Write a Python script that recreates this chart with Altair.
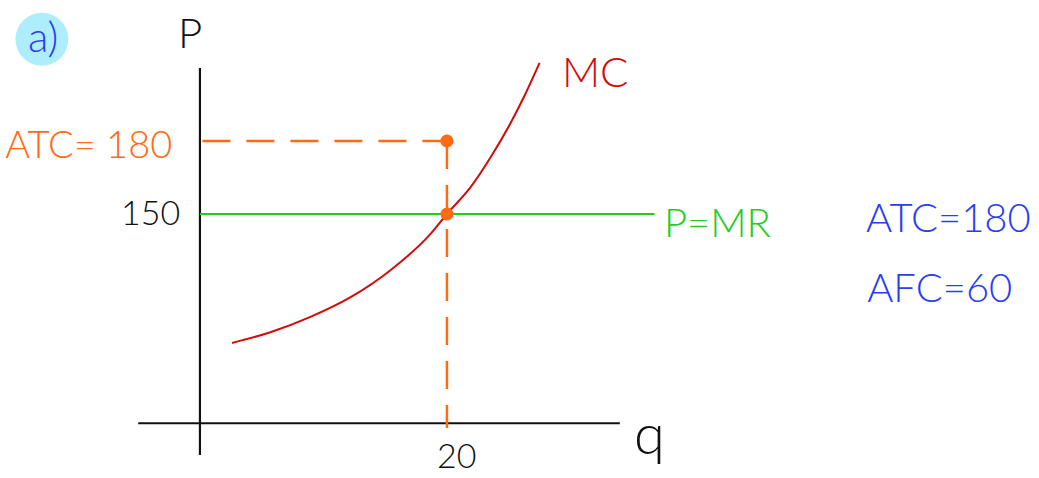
import altair as alt
import pandas as pd

# Marginal cost curve, quantity vs price
mc_q = [2.6, 5.7, 8.9, 12.2, 15.4, 18.6, 20.0, 21.9, 23.5, 25.1, 26.3, 27.5]
mc_p = [97.0, 101.4, 107.6, 115.8, 126.8, 141.4, 150.0, 160.9, 173.0, 186.9, 198.8, 212.1]

# Market price (P = MR), average total cost and profit-maximising output
price = 150
atc = 180
q_star = 20
price_line_q = [0, 36.8]

# Sketch axes (origin drawn schematically, not at zero)
x_axis_q = [-5, 34]
x_axis_p = 64
y_axis_p = [51, 210]

# Guide lines down to the axes
atc_guide_q = [0.2, 19.8]
q_guide_p = [atc, 62]

# Text annotations
label_text = ["a)", "P", "ATC= 180", "150", "MC", "P=MR", "ATC=180", "AFC=60", "20", "q"]
label_q = [-12.7, -0.8, -9.0, -4.0, 32.0, 41.9, 60.6, 59.9, 20.8, 36.4]
label_p = [222.0, 223.6, 177.5, 149.6, 207.5, 145.5, 147.5, 118.8, 49.7, 58.5]
label_color = ["#2a3df0", "#111111", "#ff6a13", "#111111", "#d40a0a",
               "#22cc22", "#2a3df0", "#2a3df0", "#111111", "#111111"]
label_size = [42, 42, 38, 34, 42, 40, 40, 40, 34, 56]

ORANGE = "#ff6a13"
q_dom = [-16.19, 67.94]
p_dom = [41.5, 237.95]

xs = alt.Scale(domain=q_dom, nice=False, zero=False)
ys = alt.Scale(domain=p_dom, nice=False, zero=False)

def X(f):
    return alt.X(f, type="quantitative", scale=xs, axis=None)

def Y(f):
    return alt.Y(f, type="quantitative", scale=ys, axis=None)

# Highlight blob behind the part label
badge = alt.Chart(pd.DataFrame({"q": [label_q[0] - 0.1], "p": [label_p[0] - 0.2]})).mark_circle(
    size=2800, color="#aeeefc", opacity=1
).encode(x=X("q"), y=Y("p"))

axes_df = pd.DataFrame({
    "q": [x_axis_q[0], 0],
    "q2": [x_axis_q[1], 0],
    "p": [x_axis_p, y_axis_p[0]],
    "p2": [x_axis_p, y_axis_p[1]],
})
axes = alt.Chart(axes_df).mark_rule(color="#111111", strokeWidth=2.2).encode(
    x=X("q"), x2="q2", y=Y("p"), y2="p2"
)

price_df = pd.DataFrame({"q": [price_line_q[0]], "q2": [price_line_q[1]], "p": [price], "p2": [price]})
price_rule = alt.Chart(price_df).mark_rule(color="#22cc22", strokeWidth=2).encode(
    x=X("q"), x2="q2", y=Y("p"), y2="p2"
)

guide_df = pd.DataFrame({
    "q": [atc_guide_q[0], q_star],
    "q2": [atc_guide_q[1], q_star],
    "p": [atc, q_guide_p[0]],
    "p2": [atc, q_guide_p[1]],
})
guides = alt.Chart(guide_df).mark_rule(
    color=ORANGE, strokeWidth=2.5, strokeDash=[28, 16]
).encode(x=X("q"), x2="q2", y=Y("p"), y2="p2")

mc_df = pd.DataFrame({"q": mc_q, "p": mc_p})
mc_line = alt.Chart(mc_df).mark_line(
    color="#d40a0a", strokeWidth=2, interpolate="monotone"
).encode(x=X("q"), y=Y("p"), order="q:Q")

dots_df = pd.DataFrame({"q": [q_star, q_star], "p": [atc, price]})
dots = alt.Chart(dots_df).mark_circle(size=170, color=ORANGE, opacity=1).encode(
    x=X("q"), y=Y("p")
)

labels_df = pd.DataFrame({
    "text": label_text, "q": label_q, "p": label_p,
    "color": label_color, "size": label_size,
})
labels = alt.Chart(labels_df).mark_text(
    font="Lato", fontWeight=300, align="center", baseline="middle"
).encode(
    x=X("q"), y=Y("p"), text="text:N",
    color=alt.Color("color:N", scale=None),
    size=alt.Size("size:Q", scale=None),
)

chart = alt.layer(badge, axes, price_rule, guides, mc_line, dots, labels).properties(
    width=1039, height=478, padding=0, autosize="none", background="white"
).configure_view(stroke=None)

chart.save("out.html", embed_options={"renderer": "svg", "actions": False})
